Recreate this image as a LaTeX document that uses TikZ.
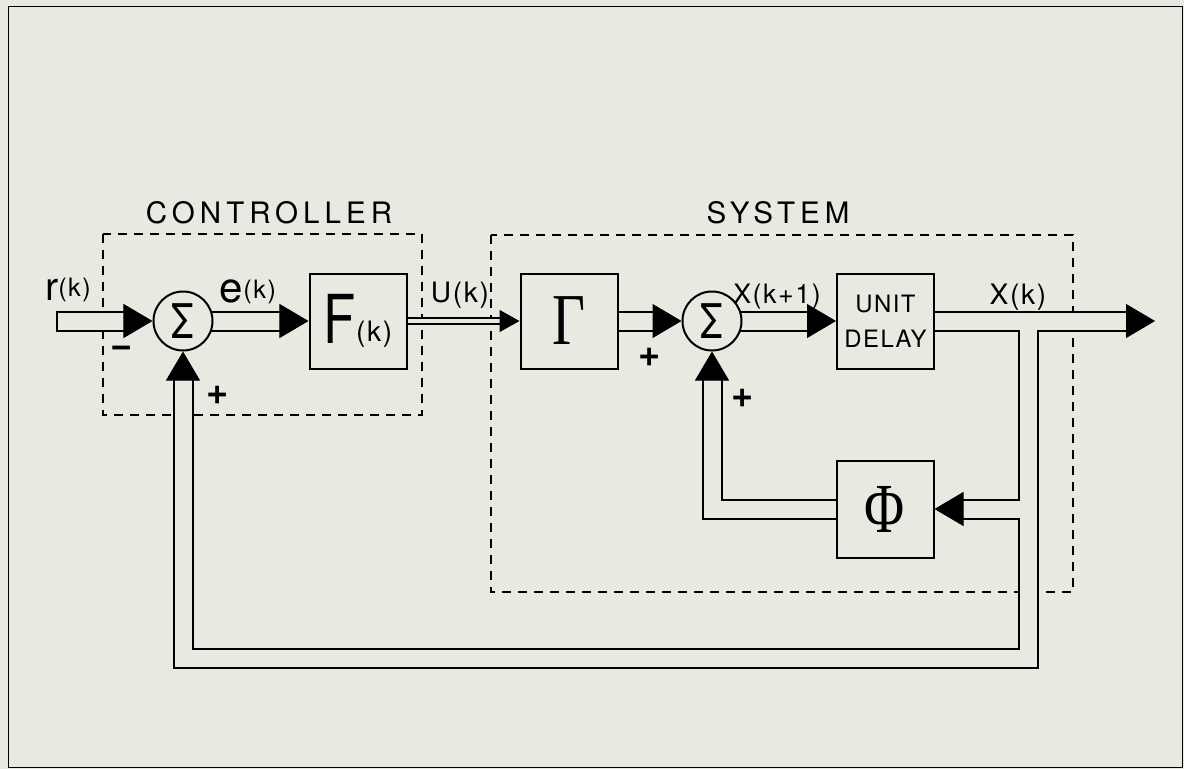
\documentclass[tikz,border=0pt]{standalone}
\usepackage{fontspec}
\setmainfont{TeX Gyre Heros}[LetterSpace=6]
\newfontfamily\titlefont{TeX Gyre Heros}[LetterSpace=17]
\newfontfamily\grkfont{Liberation Serif}
\usetikzlibrary{arrows.meta, positioning, backgrounds}
\definecolor{paper}{RGB}{233,233,226}
\newlength{\upx}
\setlength{\upx}{0.025cm}
\newcommand{\fsz}[1]{\fontsize{#1}{#1}\selectfont}
\newcommand{\narrowbox}[1]{\scalebox{0.78}[1]{#1}}

\begin{document}
\begin{tikzpicture}[
    x=0.025cm, y=-0.025cm,
    line width=2\upx,
    block/.style={rectangle, draw, fill=paper, minimum width=97\upx, minimum height=95\upx, inner sep=0pt, align=center},
    summer/.style={circle, draw, fill=paper, minimum size=59\upx, inner sep=0pt, font=\fsz{34}},
    group/.style={draw, line width=1.5\upx, dash pattern=on 9\upx off 7\upx},
    title/.style={inner sep=0pt, font=\titlefont\fsz{21}},
    sig/.style={inner sep=0pt, anchor=base},
    pm/.style={inner sep=0pt, font=\bfseries\fsz{27}},
    chan/.style={line join=miter, shorten >=28\upx},
    dart/.style={draw=paper, line width=1\upx, shorten <=3\upx, -{Triangle[length=0.725cm, width=0.85cm, color=black, fill=black]}},
    smalldart/.style={draw=paper, line width=1\upx, shorten <=3\upx, -{Triangle[length=0.5cm, width=0.55cm, color=black, fill=black]}}
]
    \useasboundingbox (0,0) rectangle (1184,769);

    % blocks
    \node [summer] (sum1) at (183,321) {\narrowbox{Σ}};
    \node [block] (gainF) at (358,321) {\narrowbox{\fsz{48}F}{\fsz{20}\raisebox{1pt}{(k)}}};
    \node [block] (gamma) at (569,321) {\grkfont\fsz{52}\narrowbox{Γ}};
    \node [summer] (sum2) at (712,321) {\narrowbox{Σ}};
    \node [block, font=\fontsize{17}{25}\selectfont] (delay) at (885.5,321) {UNIT\\DELAY};
    \node [block, minimum height=97\upx] (phi) at (885,509) {\grkfont\fsz{50}\narrowbox{Φ}};

    \coordinate (rin) at (56,321);
    \coordinate (out) at (1155,321);
    \coordinate (tap) at (1028,321);
    \coordinate (tapphi) at (1028,509);
    \coordinate (loopR) at (1028,658);
    \coordinate (loopL) at (183,658);
    \coordinate (phiL) at (712,509);

    % texts
    \node [title] (ctrlname) at (269,213) {CONTROLLER};
    \node [title] (sysname) at (778,213) {SYSTEM};
    \node [sig] (rlab) at (68,300) {{\fsz{28}r}{\fsz{18}\raisebox{2.5pt}{(k)}}};
    \node [sig] (elab) at (248,302) {{\fsz{30}e}{\fsz{18}\raisebox{2.5pt}{(k)}}};
    \node [sig, font=\fsz{20}] (ulab) at (460,302) {U(k)};
    \node [sig, font=\fsz{19}] (xnext) at (777,303) {X(k+1)};
    \node [sig, font=\fsz{20}] (xlab) at (1018,304) {X(k)};
    \node [pm] (minus1) at (122,352) {−};
    \node [pm] (plus1) at (218,395) {+};
    \node [pm] (plus2) at (650,357) {+};
    \node [pm] (plus3) at (743,398) {+};

    \begin{scope}[on background layer]
        \fill [paper] (0,0) rectangle (1184,769);
        \draw (8,6) rectangle (1182,767);
        \draw [group] (103,234) rectangle (422,415);
        \draw [group] (491,235) rectangle (1073,592);

        % wide signal lines: outer pass, then inner pass
        \draw [chan, line width=21\upx] (rin) -- (sum1.west);
        \draw [chan, line width=17\upx, draw=paper, shorten <=2\upx] (rin) -- (sum1.west);
        \foreach \w/\c in {21/black, 17/paper} {
            \draw [chan, line width=\w\upx, draw=\c] (sum1.center) -- (gainF.west);
            \draw [chan, line width=\w\upx, draw=\c] (gamma.center) -- (sum2.west);
            \draw [chan, line width=\w\upx, draw=\c] (sum2.center) -- (delay.west);
            \draw [chan, line width=\w\upx, draw=\c] (delay.center) -- (out);
            \draw [chan, line width=\w\upx, draw=\c] (tap) -- (loopR) -- (loopL) -- (sum1.south);
            \draw [chan, line width=\w\upx, draw=\c] (tapphi) -- (phi.east);
            \draw [chan, line width=\w\upx, draw=\c] (phi.center) -- (phiL) -- (sum2.south);
        }
        % narrow line for U(k)
        \draw [line width=8\upx, shorten >=19\upx] (gainF.center) -- (gamma.west);
        \draw [line width=4\upx, draw=paper, shorten >=19\upx] (gainF.center) -- (gamma.west);
    \end{scope}

    % arrow heads
    \draw [dart] (rin) -- (sum1.west);
    \draw [dart] (sum1.east) -- (gainF.west);
    \draw [smalldart] (gainF.east) -- (gamma.west);
    \draw [dart] (gamma.east) -- (sum2.west);
    \draw [dart] (sum2.east) -- (delay.west);
    \draw [dart] (delay.east) -- (out);
    \draw [dart] (tapphi) -- (phi.east);
    \draw [dart] (phiL) -- (sum2.south);
    \draw [dart] (loopL) -- (sum1.south);
\end{tikzpicture}
\end{document}
